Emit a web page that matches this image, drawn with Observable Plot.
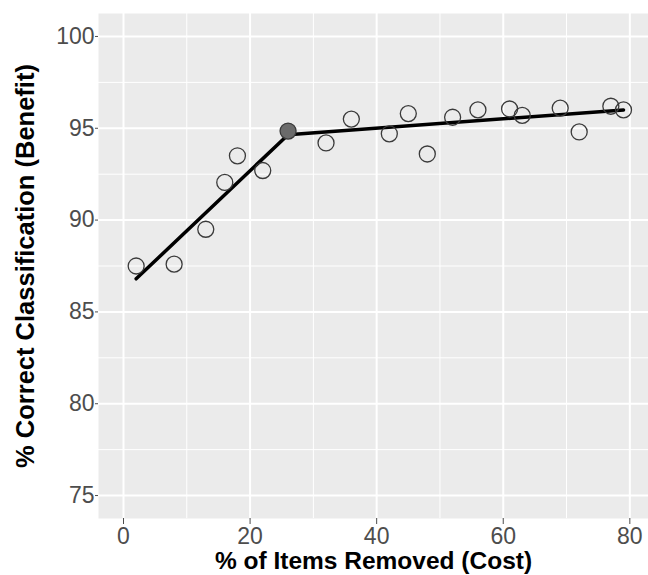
<!DOCTYPE html>
<html>
<head>
<meta charset="utf-8">
<script src="https://cdn.jsdelivr.net/npm/d3@7"></script>
<script src="https://cdn.jsdelivr.net/npm/@observablehq/plot@0.6"></script>
<style>
  html, body { margin: 0; padding: 0; background: #ffffff; }
  #chart svg { display: block; }
</style>
</head>
<body>
<div id="chart"></div>
<script>
// Observed points: % of items removed (cost) vs % correct classification (benefit)
const costs    = [2, 8, 13, 16, 18, 22, 32, 36, 42, 45, 48, 52, 56, 61, 63, 69, 72, 77, 79];
const benefits = [87.5, 87.6, 89.5, 92.05, 93.5, 92.7, 94.2, 95.5, 94.7, 95.8, 93.6, 95.6, 96.0, 96.05, 95.7, 96.1, 94.8, 96.2, 96.0];

// Breakpoint point (filled)
const breakCost = [26];
const breakBenefit = [94.85];

// Piecewise (segmented) fit line
const fitCost    = [2, 26, 79];
const fitBenefit = [86.8, 94.65, 96.0];

// Axis ticks
const xMajor = [0, 20, 40, 60, 80];
const xMinor = [10, 30, 50, 70];
const yMajor = [75, 80, 85, 90, 95, 100];
const yMinor = [77.5, 82.5, 87.5, 92.5, 97.5];

const xTitle = "% of Items Removed (Cost)";
const yTitle = "% Correct Classification (Benefit)";

const points = costs.map((c, i) => ({cost: c, benefit: benefits[i]}));
const breakPts = breakCost.map((c, i) => ({cost: c, benefit: breakBenefit[i]}));
const fit = fitCost.map((c, i) => ({cost: c, benefit: fitBenefit[i]}));

const chart = Plot.plot({
  width: 648,
  height: 575,
  marginLeft: 98,
  marginRight: 0,
  marginTop: 13,
  marginBottom: 57,
  style: {fontFamily: "'Liberation Sans', Arial, sans-serif", background: "#ffffff"},
  x: {domain: [-3.95, 82.95]},
  y: {domain: [73.75, 101.25]},
  marks: [
    Plot.frame({fill: "#ebebeb", stroke: "none"}),
    Plot.ruleX(xMinor, {stroke: "#ffffff", strokeWidth: 1}),
    Plot.ruleY(yMinor, {stroke: "#ffffff", strokeWidth: 1}),
    Plot.ruleX(xMajor, {stroke: "#ffffff", strokeWidth: 2}),
    Plot.ruleY(yMajor, {stroke: "#ffffff", strokeWidth: 2}),
    Plot.axisX({ticks: xMajor, tickSize: 6, tickPadding: 3, fontSize: 23, color: "#4d4d4d", label: null}),
    Plot.axisY({ticks: yMajor, tickSize: 3, tickPadding: 1, fontSize: 23, color: "#4d4d4d", label: null}),
    Plot.line(fit, {x: "cost", y: "benefit", stroke: "#000000", strokeWidth: 3.5}),
    Plot.dot(points, {x: "cost", y: "benefit", r: 8, fill: "none", stroke: "#3a3a3a", strokeWidth: 1.3}),
    Plot.dot(breakPts, {x: "cost", y: "benefit", r: 8, fill: "#6b6b6b", stroke: "#3a3a3a", strokeWidth: 1.3}),
    Plot.text([xTitle], {frameAnchor: "bottom", textAnchor: "middle", lineAnchor: "bottom", dy: 50, fontSize: 24.5, fontWeight: "bold", fill: "#000000"}),
    Plot.text([yTitle], {frameAnchor: "left", textAnchor: "middle", lineAnchor: "middle", dx: -73, rotate: -90, fontSize: 25.5, fontWeight: "bold", fill: "#000000"})
  ]
});
document.getElementById("chart").appendChild(chart);
</script>
</body>
</html>
